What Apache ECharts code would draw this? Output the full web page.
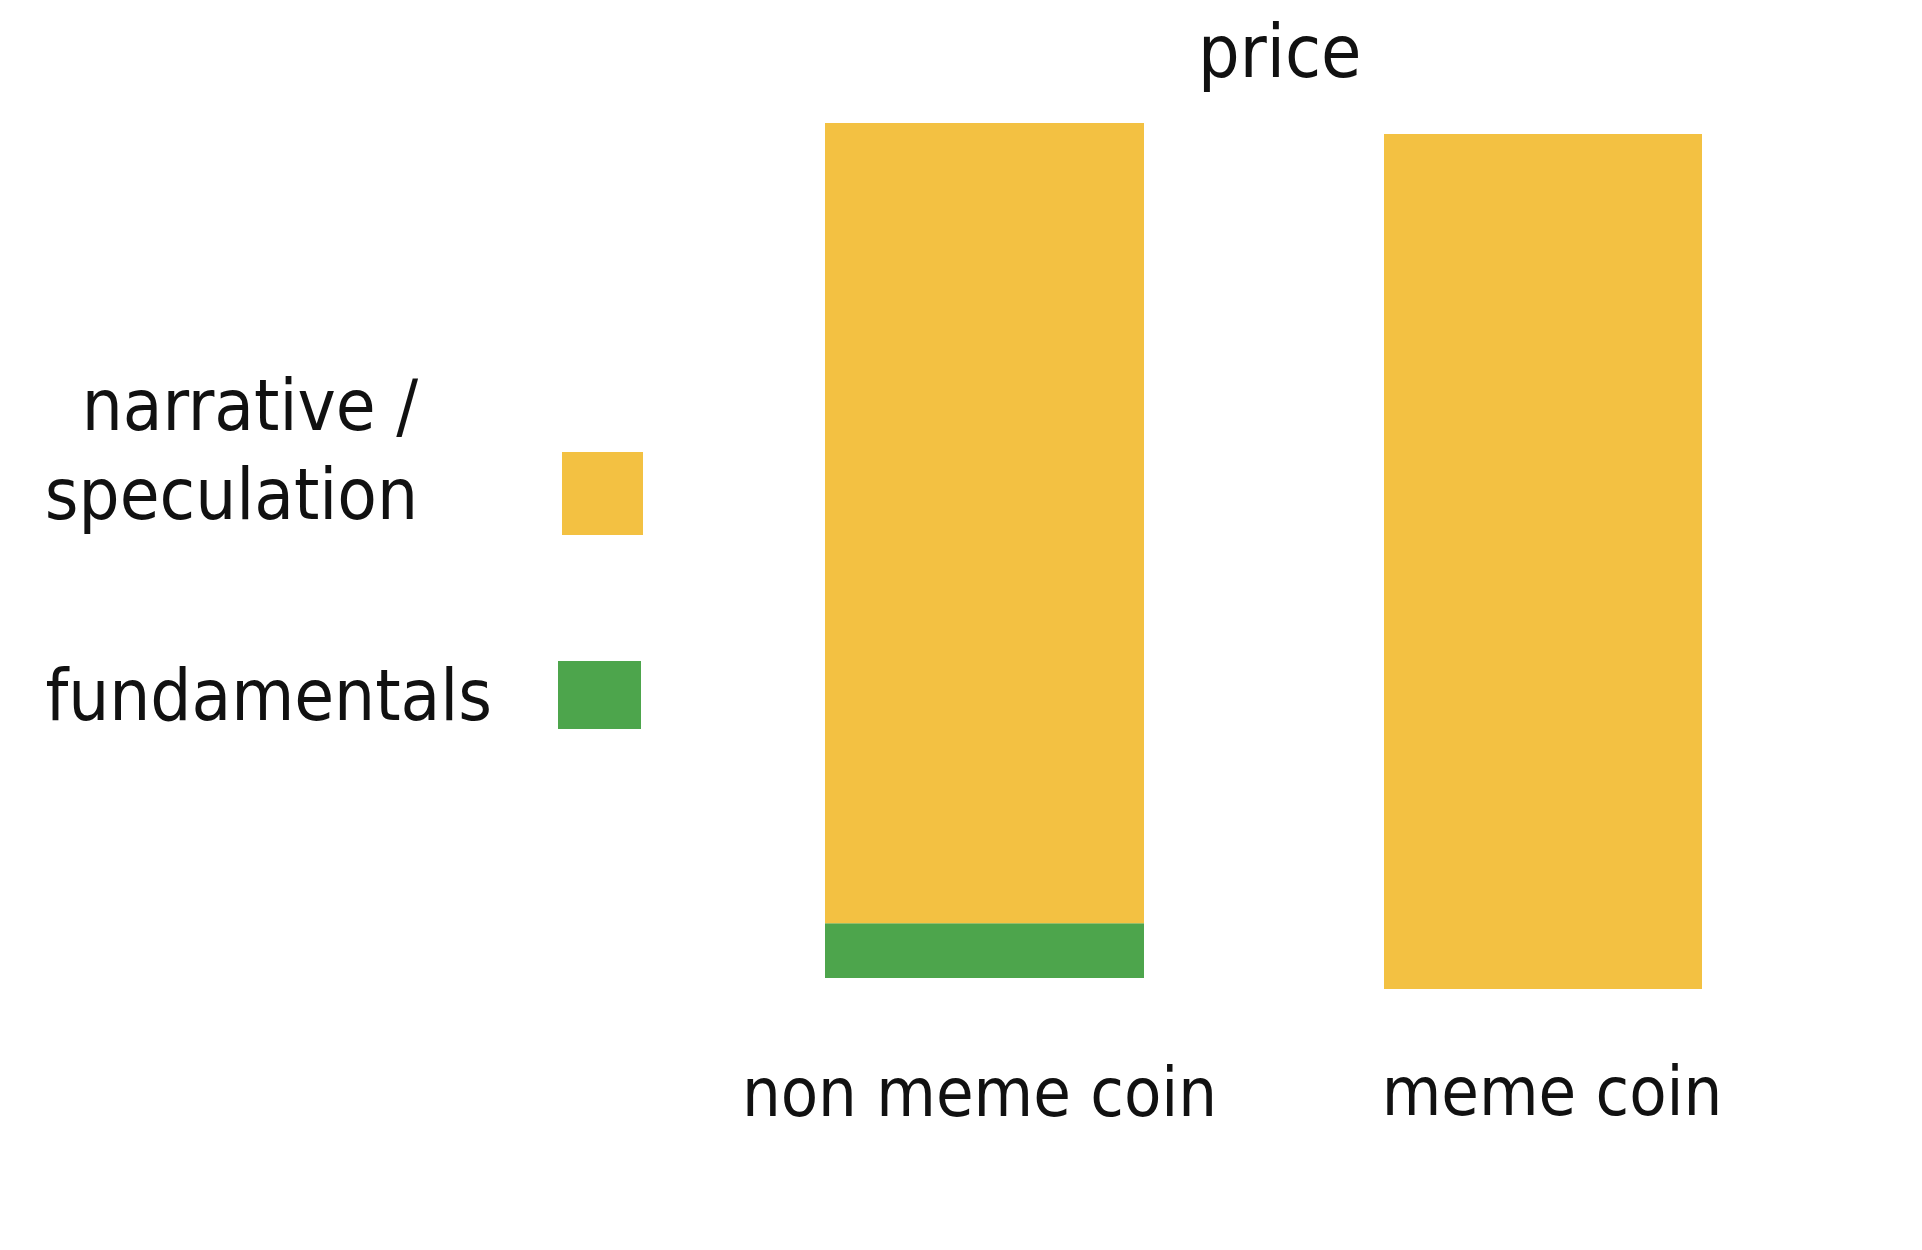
<!DOCTYPE html>
<html>
<head>
<meta charset="utf-8">
<script src="https://cdn.jsdelivr.net/npm/echarts@6/dist/echarts.min.js"></script>
<style>
  html, body { margin: 0; padding: 0; background: #ffffff; }
  #chart { width: 1922px; height: 1250px; }
</style>
</head>
<body>
<div id="chart"></div>
<script>
const categories = ['non meme coin', 'meme coin'];
const fundamentals = [6.4, 0];
const narrative = [93.6, 100];
const titleText = 'price';
const seriesNames = ['narrative / speculation', 'fundamentals'];

const YELLOW = '#F3C142';
const GREEN = '#4DA54C';
const FONT = "'DejaVu Sans Condensed', 'DejaVu Sans', sans-serif";
const LEGEND_FONT = "'DejaVu Sans Condensed', 'DejaVu Sans', sans-serif";

const grids = [
  { left: 825, width: 319, top: 123, height: 855 },
  { left: 1384, width: 318, top: 134, height: 855 }
];
const labelMargins = [80, 68];
const labelPads = [[0, 10, 0, 0], [0, 0, 0, 18]];

const xAxes = categories.map((c, i) => ({
  type: 'category',
  gridIndex: i,
  data: [c],
  axisLine: { show: false },
  axisTick: { show: false },
  splitLine: { show: false },
  axisLabel: {
    margin: labelMargins[i],
    fontSize: 68,
    fontFamily: FONT,
    color: '#111111',
    padding: labelPads[i]
  }
}));
const yAxes = categories.map((c, i) => ({
  type: 'value',
  gridIndex: i,
  min: 0,
  max: 100,
  show: false
}));

const series = [];
categories.forEach((c, i) => {
  series.push({
    name: seriesNames[1],
    type: 'bar',
    stack: 'coin' + i,
    xAxisIndex: i,
    yAxisIndex: i,
    barWidth: '100%',
    itemStyle: { color: GREEN },
    data: [fundamentals[i]]
  });
  series.push({
    name: seriesNames[0],
    type: 'bar',
    stack: 'coin' + i,
    xAxisIndex: i,
    yAxisIndex: i,
    barWidth: '100%',
    itemStyle: { color: YELLOW },
    data: [narrative[i]]
  });
});

const chart = echarts.init(document.getElementById('chart'), null, { renderer: 'svg' });
chart.setOption({
  backgroundColor: '#ffffff',
  animation: false,
  color: [YELLOW, GREEN],
  title: {
    text: titleText,
    left: 1198,
    top: 15,
    padding: 0,
    textStyle: { fontSize: 73, fontWeight: 'normal', fontFamily: FONT, color: '#111111' }
  },
  legend: [
    {
      data: [seriesNames[0]],
      orient: 'vertical',
      align: 'right',
      right: 1279,
      top: 360,
      padding: 0,
      icon: 'rect',
      itemWidth: 81,
      itemHeight: 83,
      selectedMode: false,
      formatter: () => 'narrative /\nspeculation\n',
      textStyle: {
        fontSize: 72,
        lineHeight: 89,
        fontFamily: LEGEND_FONT,
        color: '#111111',
        padding: [0, 139, 0, 0]
      }
    },
    {
      data: [seriesNames[1]],
      orient: 'vertical',
      align: 'right',
      right: 1281,
      top: 659,
      padding: 0,
      icon: 'rect',
      itemWidth: 83,
      itemHeight: 68,
      selectedMode: false,
      textStyle: {
        fontSize: 72,
        fontFamily: LEGEND_FONT,
        color: '#111111',
        padding: [0, 61, 0, 0]
      }
    }
  ],
  grid: grids,
  xAxis: xAxes,
  yAxis: yAxes,
  series: series
});
</script>
</body>
</html>
